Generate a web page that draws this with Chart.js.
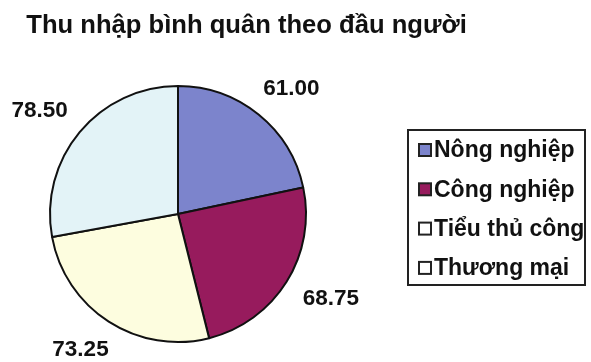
<!DOCTYPE html>
<html><head><meta charset="utf-8">
<script src="https://cdn.jsdelivr.net/npm/chart.js@4/dist/chart.umd.min.js"></script>
<style>html,body{margin:0;padding:0;background:#fff}#w{width:591px;height:362px;position:relative}</style>
</head><body><div id="w"><canvas id="c" width="591" height="362"></canvas></div>
<script>
const chartTitle = "Thu nhập bình quân theo đầu người";
const categories = ["Nông nghiệp", "Công nghiệp", "Tiểu thủ công", "Thương mại"];
const values = [61.00, 68.75, 73.25, 78.50];
const valueLabels = ["61.00", "68.75", "73.25", "78.50"];
const sliceColors = ["#7c84cc", "#971b5d", "#fdfddf", "#e3f3f7"];
const markerColors = ["#7c84cc", "#971b5d", "#ffffff", "#ffffff"];

const FONT = '"Liberation Sans", Arial, sans-serif';

const overlay = {
  id: 'overlay',
  afterDraw(chart) {
    const ctx = chart.ctx;
    ctx.save();
    // title
    ctx.fillStyle = '#111';
    ctx.font = 'bold 25.6px ' + FONT;
    ctx.textAlign = 'center';
    ctx.textBaseline = 'alphabetic';
    ctx.fillText(chartTitle, 246.5, 33);

    // data labels
    const meta = chart.getDatasetMeta(0);
    ctx.font = 'bold 22.5px ' + FONT;
    ctx.textAlign = 'center';
    ctx.textBaseline = 'middle';
    meta.data.forEach((arc, i) => {
      const p = arc.getProps(['x', 'y', 'startAngle', 'endAngle', 'outerRadius'], true);
      const mid = (p.startAngle + p.endAngle) / 2;
      const dx = Math.cos(mid), dy = Math.sin(mid);
      const txt = valueLabels[i];
      const hw = ctx.measureText(txt).width / 2, hh = 9;
      const d = p.outerRadius + 24;
      const cx = p.x + dx * d + hw * dx;
      const cy = p.y + dy * d + hh * dy;
      ctx.fillText(txt, cx, cy);
    });

    // legend
    ctx.lineWidth = 2;
    ctx.strokeStyle = '#222';
    ctx.strokeRect(408, 130, 177, 155);
    ctx.font = 'bold 23px ' + FONT;
    ctx.textAlign = 'left';
    ctx.textBaseline = 'middle';
    categories.forEach((c, i) => {
      const y = 150 + i * 39.3;
      ctx.fillStyle = markerColors[i];
      ctx.fillRect(419, y - 6, 12, 12);
      ctx.strokeStyle = '#222';
      ctx.lineWidth = 2;
      ctx.strokeRect(419, y - 6, 12, 12);
      ctx.fillStyle = '#111';
      ctx.fillText(c, 434, y + 1);
    });
    ctx.restore();
  }
};

new Chart(document.getElementById('c'), {
  type: 'pie',
  data: {
    labels: categories,
    datasets: [{
      data: values,
      backgroundColor: sliceColors,
      borderColor: '#111',
      borderWidth: 2
    }]
  },
  options: {
    responsive: false,
    animation: false,
    devicePixelRatio: 1,
    layout: { padding: { left: 49, top: 85, right: 284, bottom: 19 } },
    plugins: { legend: { display: false }, tooltip: { enabled: false }, title: { display: false } }
  },
  plugins: [overlay]
});
</script>
</body></html>
